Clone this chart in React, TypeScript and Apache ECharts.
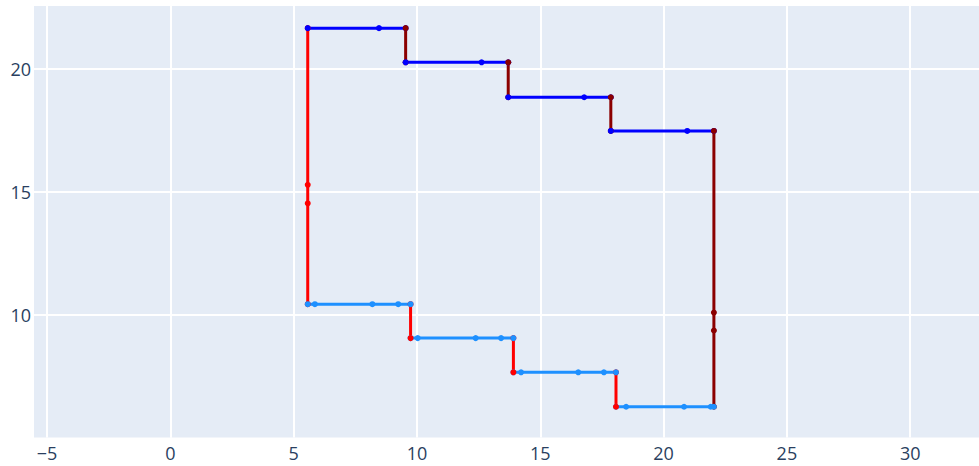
import React, { useEffect, useRef } from "react";
import * as echarts from "echarts";

// Upper staircase (blue horizontals, dark red verticals)
const upperBoundsX = [5.57, 9.54, 13.7, 17.86, 22.04];
const upperLevelsY = [21.67, 20.28, 18.86, 17.49];
const upperMidX = [8.46, 12.62, 16.78, 20.96];

// Lower staircase (dodger blue horizontals, red verticals)
const lowerBoundsX = [5.57, 9.74, 13.91, 18.07, 22.04];
const lowerLevelsY = [10.45, 9.07, 7.68, 6.28];
const lowerMarksX = [
  [5.86, 8.19, 9.24],
  [10.03, 12.38, 13.41],
  [14.22, 16.54, 17.58],
  [18.48, 20.83, 21.91],
];

// Extra markers on the outer verticals
const leftMarksY = [15.3, 14.55];
const rightMarksY = [10.11, 9.38];

const C_BLUE = "#0000ff";
const C_DARKRED = "#8b0000";
const C_RED = "#ff0000";
const C_LIGHT = "#1e90ff";

function seg(data: number[][], color: string, extra: any = {}) {
  return {
    type: "line",
    data,
    symbol: "circle",
    symbolSize: 6,
    showSymbol: true,
    lineStyle: { color, width: 3 },
    itemStyle: { color },
    emphasis: { disabled: true },
    silent: true,
    ...extra,
  };
}

export default function App() {
  const ref = useRef<HTMLDivElement>(null);
  useEffect(() => {
    if (!ref.current) return;
    const chart = echarts.init(ref.current, undefined, { renderer: "svg" });
    const series: any[] = [];
    // left red vertical
    const xl = upperBoundsX[0];
    series.push(
      seg(
        [
          [xl, lowerLevelsY[0]],
          ...leftMarksY.map((y) => [xl, y]),
          [xl, upperLevelsY[0]],
        ].reverse(),
        C_RED,
        {
          markLine: {
            silent: true,
            symbol: "none",
            label: { show: false },
            lineStyle: { color: "#ffffff", width: 2, type: "solid" },
            data: [{ xAxis: 0 }],
          },
        }
      )
    );
    // upper path
    for (let i = 0; i < upperLevelsY.length; i++) {
      const y = upperLevelsY[i];
      series.push(
        seg(
          [
            [upperBoundsX[i], y],
            [upperMidX[i], y],
            [upperBoundsX[i + 1], y],
          ],
          C_BLUE
        )
      );
      const xr = upperBoundsX[i + 1];
      if (i < upperLevelsY.length - 1) {
        series.push(seg([[xr, y], [xr, upperLevelsY[i + 1]]], C_DARKRED));
      } else {
        series.push(
          seg(
            [
              [xr, y],
              ...rightMarksY.map((v) => [xr, v]),
              [xr, lowerLevelsY[lowerLevelsY.length - 1]],
            ],
            C_DARKRED
          )
        );
      }
    }
    // lower path, drawn right to left
    for (let i = lowerLevelsY.length - 1; i >= 0; i--) {
      const y = lowerLevelsY[i];
      series.push(
        seg(
          [
            [lowerBoundsX[i], y],
            ...lowerMarksX[i].map((x) => [x, y]),
            [lowerBoundsX[i + 1], y],
          ],
          C_LIGHT
        )
      );
      if (i > 0) {
        const xv = lowerBoundsX[i];
        series.push(seg([[xv, lowerLevelsY[i - 1]], [xv, y]], C_RED));
      }
    }

    const labelStyle = {
      color: "#2a3f5f",
      fontSize: 18,
      fontFamily: '"Open Sans", verdana, arial, sans-serif',
    };
    chart.setOption({
      animation: false,
      backgroundColor: "#ffffff",
      grid: {
        left: 34,
        right: 0,
        top: 6,
        bottom: 28.5,
        show: true,
        backgroundColor: "#e5ecf6",
        borderWidth: 0,
      },
      xAxis: {
        type: "value",
        min: -5.53,
        max: 32.79,
        splitNumber: 8,
        axisLine: { show: false },
        axisTick: { show: false },
        splitLine: {
          show: true,
          showMinLine: false,
          showMaxLine: false,
          lineStyle: { color: "#ffffff", width: 2 },
        },
        axisLabel: {
          ...labelStyle,
          margin: 6,
          showMinLabel: false,
          showMaxLabel: false,
          formatter: (v: number) => String(v).replace("-", "\u2212"),
        },
      },
      yAxis: {
        type: "value",
        min: 5.03,
        max: 22.57,
        splitNumber: 4,
        axisLine: { show: false },
        axisTick: { show: false },
        splitLine: {
          show: true,
          showMinLine: false,
          showMaxLine: false,
          lineStyle: { color: "#ffffff", width: 2 },
        },
        axisLabel: {
          ...labelStyle,
          margin: 3,
          showMinLabel: false,
          showMaxLabel: false,
        },
      },
      series,
    });
    return () => chart.dispose();
  }, []);
  return (
    <div
      ref={ref}
      style={{ position: "fixed", left: 0, top: 0, width: 979, height: 466 }}
    />
  );
}
